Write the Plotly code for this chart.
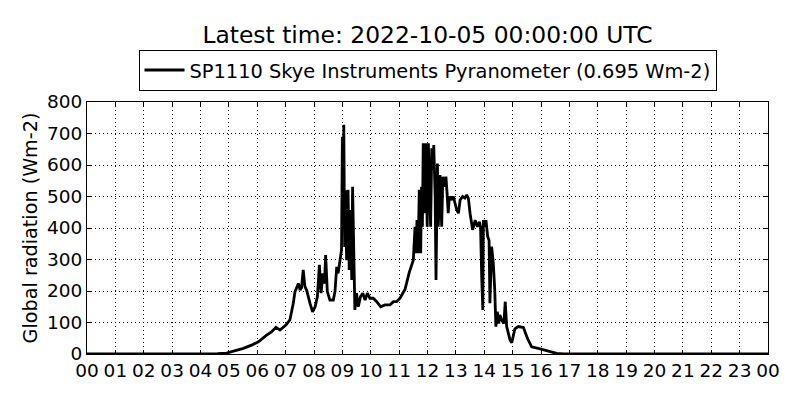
import plotly.graph_objects as go

hours = [0, 4.3, 4.6, 4.92, 5.2, 5.51, 5.8, 6.04, 6.33, 6.5, 6.66, 6.80, 7.01, 7.15, 7.27, 7.33,
         7.45, 7.51, 7.56, 7.62, 7.68, 7.74, 7.86, 7.95, 8.04, 8.12, 8.19, 8.25, 8.31, 8.37, 8.41,
         8.47, 8.56, 8.68, 8.74, 8.80, 8.85, 8.91, 8.97, 9.0, 9.02, 9.05, 9.08, 9.1, 9.15, 9.20,
         9.24, 9.29, 9.33, 9.36, 9.41, 9.44, 9.50, 9.56, 9.64, 9.72, 9.80, 9.88, 9.97, 10.09,
         10.21, 10.35, 10.50, 10.68, 10.80, 10.91, 11.03, 11.21, 11.36, 11.45, 11.50, 11.56,
         11.59, 11.63, 11.67, 11.71, 11.76, 11.79, 11.82, 11.85, 11.89, 11.91, 11.94, 11.99,
         12.03, 12.07, 12.11, 12.15, 12.19, 12.22, 12.27, 12.30, 12.35, 12.38, 12.44, 12.50,
         12.54, 12.59, 12.65, 12.69, 12.73, 12.77, 12.85, 12.91, 12.97, 13.03, 13.09, 13.15,
         13.24, 13.32, 13.38, 13.44, 13.50, 13.59, 13.68, 13.76, 13.83, 13.87, 13.91, 13.95,
         13.97, 14.03, 14.06, 14.12, 14.17, 14.20, 14.26, 14.32, 14.37, 14.41, 14.46, 14.51,
         14.55, 14.61, 14.69, 14.74, 14.79, 14.91, 14.97, 15.08, 15.2, 15.38, 15.52, 15.67,
         15.97, 16.32, 16.55, 16.8, 24]
radiation = [0, 0, 1, 3, 9, 18, 28, 39, 60, 70, 85, 76, 92, 108, 161, 198,
             224, 203, 210, 267, 214, 203, 161, 134, 150, 182, 283, 193, 256, 224, 314,
             198, 171, 171, 198, 277, 256, 298, 330, 690, 400, 728, 340, 520, 298, 521,
             267, 457, 235, 531, 320, 140, 193, 150, 182, 193, 171, 193, 177, 177,
             166, 150, 156, 156, 166, 166, 177, 206, 260, 290, 298, 404,
             320, 425, 320, 521, 320, 531, 404, 669, 447, 500, 669, 404,
             669, 542, 404, 653, 584, 663, 500, 235, 605, 404, 568, 404,
             563, 531, 563, 510, 447, 500, 489, 500, 479, 457, 447, 489,
             500, 495, 505, 495, 447, 394, 425, 404, 420, 404, 245, 140,
             425, 404, 425, 373, 360, 161, 341, 288, 203, 87, 134, 97,
             124, 108, 97, 166, 87, 44, 36, 80, 87, 84, 50, 23,
             16, 8, 2, 0, 0]

tick_vals = list(range(0, 25))
tick_text = ["%02d" % (h % 24) for h in tick_vals]
y_ticks = [0, 100, 200, 300, 400, 500, 600, 700, 800]

font = "DejaVu Sans"

fig = go.Figure()
fig.add_trace(go.Scatter(
    x=hours, y=radiation, mode="lines",
    line=dict(color="black", width=2.8),
    name="SP1110 Skye Instruments Pyranometer (0.695 Wm-2)",
))

axis_common = dict(
    showline=True, linecolor="black", linewidth=1, mirror="ticks",
    ticks="inside", ticklen=4, tickcolor="black",
    showgrid=True, gridcolor="black", gridwidth=0.8, griddash="1px,3px",
    zeroline=False,
    tickfont=dict(family=font, size=18.5, color="black"),
)

fig.update_xaxes(range=[0, 24], tickvals=tick_vals, ticktext=tick_text, **axis_common)
fig.update_yaxes(range=[0, 800], tickvals=y_ticks,
                 title=dict(text="Global radiation (Wm-2)", standoff=4,
                            font=dict(family=font, size=19.2, color="black")),
                 **axis_common)

fig.update_layout(
    width=792, height=392,
    margin=dict(l=79, r=32, t=94, b=46),
    paper_bgcolor="white", plot_bgcolor="white",
    title=dict(text="Latest time: 2022-10-05 00:00:00 UTC", x=0.5, xref="paper",
               xanchor="center", y=0.931, yanchor="middle",
               font=dict(family=font, size=23.4, color="black")),
    showlegend=True,
    legend=dict(x=0.5, xanchor="center", y=1.044, yanchor="bottom",
                orientation="h", bordercolor="black", borderwidth=1,
                itemwidth=40,
                font=dict(family=font, size=19.4, color="black"),
                bgcolor="white"),
    font=dict(family=font, color="black"),
)

fig.write_html("out.html")
